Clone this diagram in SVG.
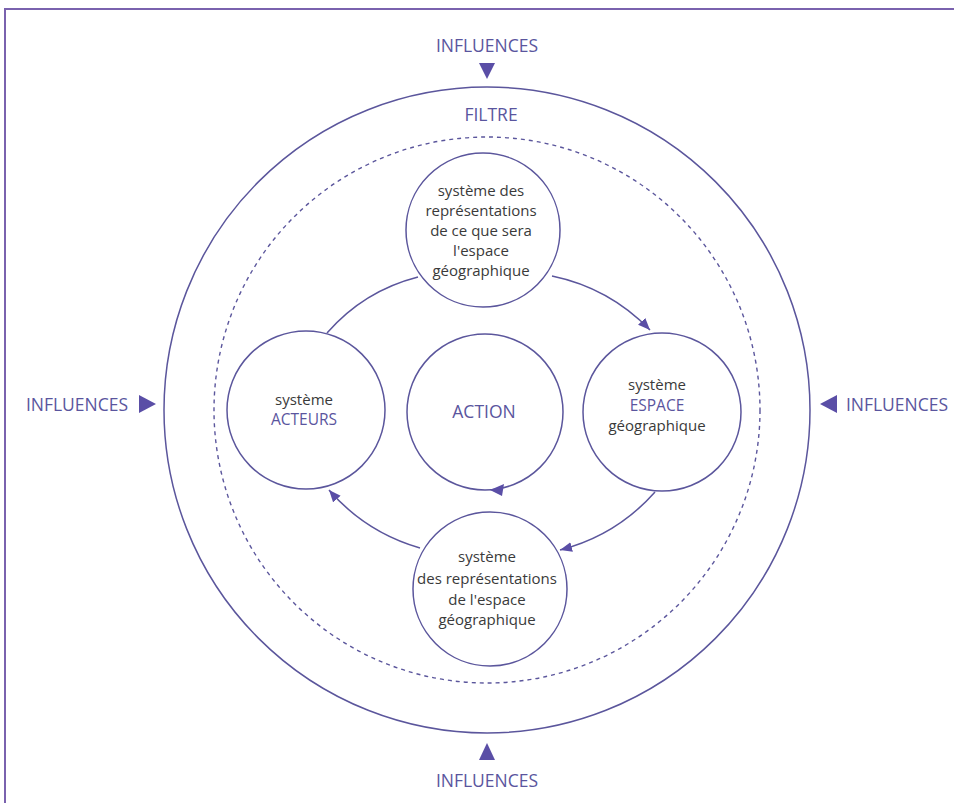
<svg xmlns="http://www.w3.org/2000/svg" width="954" height="803" viewBox="0 0 954 803">
<defs>
<style>
.ring{fill:none;stroke:#5b569c;stroke-width:1.5}
.dash{fill:none;stroke:#5b569c;stroke-width:1.4;stroke-dasharray:4 4}
.node{fill:#fff;stroke:#5b569c;stroke-width:1.5}
.conn{fill:none;stroke:#5b569c;stroke-width:1.5}
.tri{fill:#5a4ea6}
.t{font-family:"Open Sans","Noto Sans",sans-serif;font-size:15px;fill:#3a3a3a;text-anchor:middle}
.p{font-family:"Open Sans","Noto Sans",sans-serif;font-size:15.5px;fill:#5a559e;text-anchor:middle}
.ip{font-family:"Open Sans","Noto Sans",sans-serif;font-size:17.5px;fill:#5a559e;text-anchor:middle}
</style>
<marker id="ah" markerUnits="userSpaceOnUse" markerWidth="14" markerHeight="12" refX="12" refY="5" orient="auto">
<path d="M0,0 L12,5 L0,10 z" fill="#5a4ea6"/>
</marker>
</defs>
<rect x="0" y="0" width="954" height="803" fill="#fff"/>
<path d="M5,803 L5,9 L954,9" fill="none" stroke="#7a62ae" stroke-width="2"/>

<g id="filtre">
<circle class="ring" cx="487" cy="410" r="323"/>
<circle class="dash" cx="487" cy="410" r="273"/>
<text class="ip" x="491" y="121">FILTRE</text>
</g>

<g id="influences-top">
<text class="ip" x="487" y="52">INFLUENCES</text>
<polygon class="tri" points="479,63 495,63 487,79"/>
</g>
<g id="influences-left">
<text class="ip" x="77" y="411">INFLUENCES</text>
<polygon class="tri" points="139,395 139,413 156,404"/>
</g>
<g id="influences-right">
<text class="ip" x="897" y="411">INFLUENCES</text>
<polygon class="tri" points="837,395 837,413 820,404"/>
</g>
<g id="influences-bottom">
<polygon class="tri" points="479,760 495,760 487,743"/>
<text class="ip" x="487" y="787">INFLUENCES</text>
</g>

<g id="connectors">
<path class="conn" d="M327,333 A180,180 0 0 1 418,277"/>
<path class="conn" d="M552,276 A190,190 0 0 1 650,330" marker-end="url(#ah)"/>
<path class="conn" d="M655,492 A190,190 0 0 1 560,550" marker-end="url(#ah)"/>
<path class="conn" d="M420,548 A190,190 0 0 1 329,490" marker-end="url(#ah)"/>
</g>

<g id="node-top">
<circle class="node" cx="483" cy="230" r="77"/>
<text class="t" x="481" y="196">système des</text>
<text class="t" x="481" y="216">représentations</text>
<text class="t" x="481" y="236">de ce que sera</text>
<text class="t" x="481" y="256">l'espace</text>
<text class="t" x="481" y="276">géographique</text>
</g>

<g id="node-acteurs">
<circle class="node" cx="306" cy="410" r="79"/>
<text class="t" x="304" y="405">système</text>
<text class="p" x="304" y="425">ACTEURS</text>
</g>

<g id="node-action">
<circle class="node" cx="485" cy="412" r="78"/>
<polygon class="tri" points="490,490 504,484 502,496"/>
<text class="ip" x="484" y="418">ACTION</text>
</g>

<g id="node-espace">
<circle class="node" cx="662" cy="412" r="79"/>
<text class="t" x="657" y="390">système</text>
<text class="p" x="657" y="411">ESPACE</text>
<text class="t" x="657" y="431">géographique</text>
</g>

<g id="node-bottom">
<circle class="node" cx="490" cy="589" r="77"/>
<text class="t" x="487" y="562">système</text>
<text class="t" x="487" y="584">des représentations</text>
<text class="t" x="487" y="605">de l'espace</text>
<text class="t" x="487" y="625">géographique</text>
</g>
</svg>
